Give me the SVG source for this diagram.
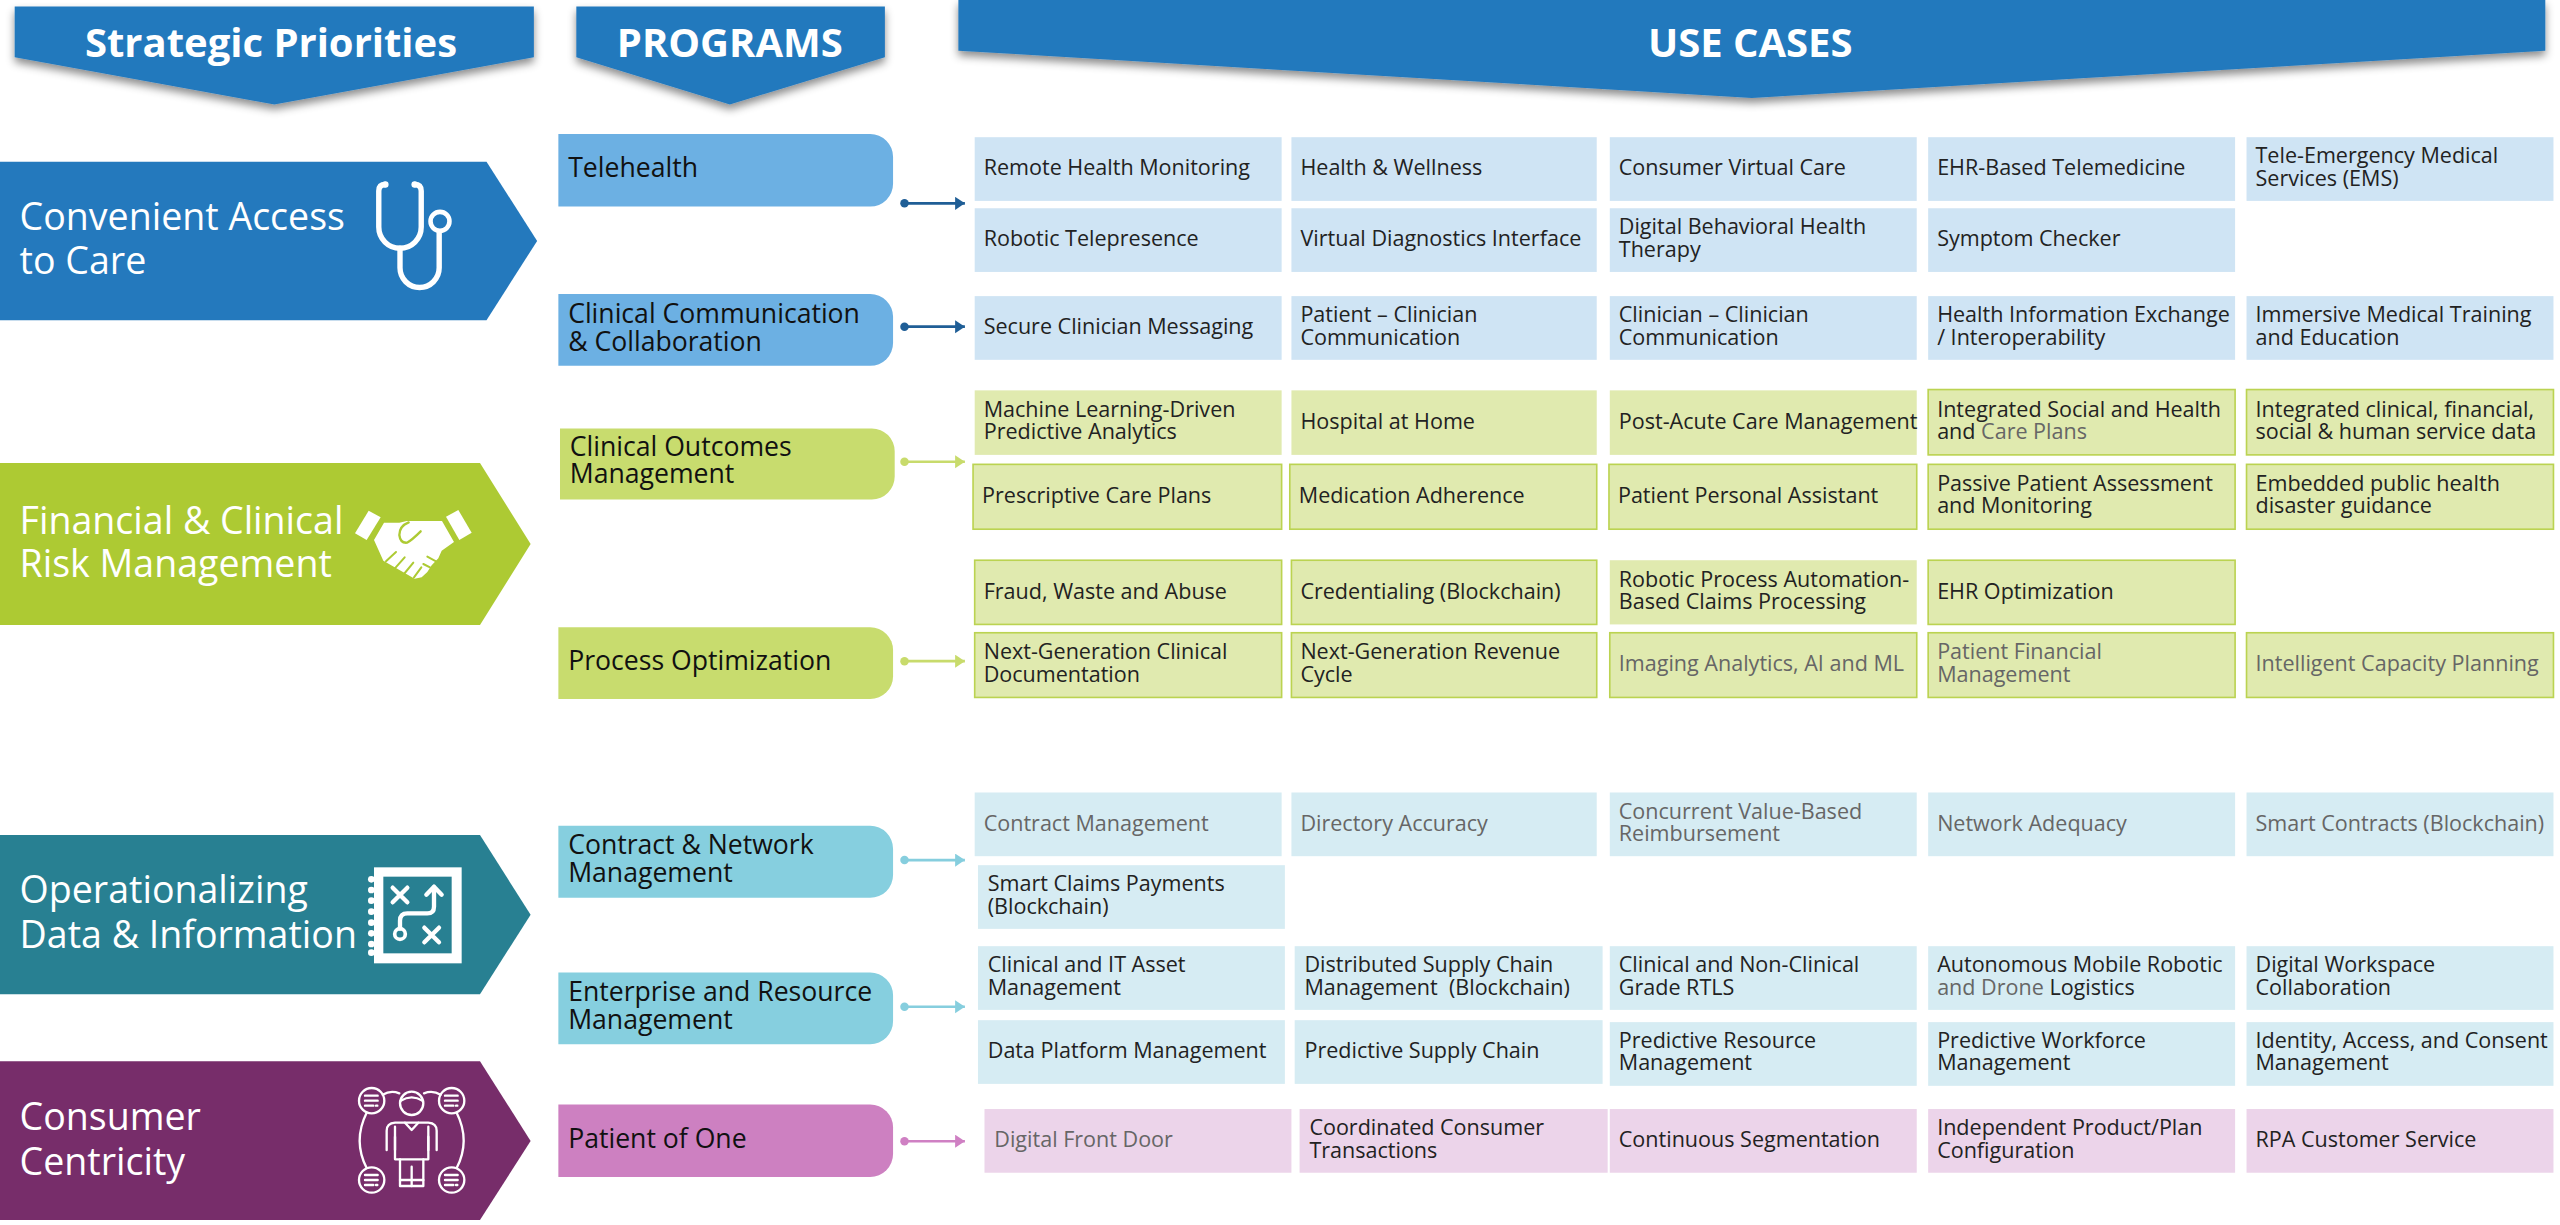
<svg xmlns="http://www.w3.org/2000/svg" width="2560" height="1225" viewBox="0 0 2560 1225">
<defs>
<style>
text{font-family:"Open Sans","Liberation Sans",sans-serif}
.ub{fill:#CFE4F4}.ug{fill:#E0EAAF}.ugb{fill:#E0EAAF;stroke:#BBD351;stroke-width:1}.ut{fill:#D6ECF3}.up{fill:#ECD4EA}
.t{font-size:13.2px;fill:#222}.g{fill:#666}
.pt{font-size:16.3px;fill:#111}
.st{font-size:23px;fill:#fff}
.ht{font-size:24.5px;font-weight:700;fill:#fff;text-anchor:middle}
.pb{fill:#6CB0E3}.pg{fill:#C8DC6E}.ptl{fill:#86CFDF}.pp{fill:#CD80C1}
.ic{fill:none;stroke:#fff;stroke-linecap:round;stroke-linejoin:round}
</style>
<filter id="sh" x="-5%" y="-20%" width="110%" height="160%">
<feDropShadow dx="0" dy="3" stdDeviation="2.5" flood-color="#000" flood-opacity="0.45"/>
</filter>
<marker id="mb" markerUnits="userSpaceOnUse" markerWidth="7" markerHeight="9" refX="6" refY="4" orient="auto"><path d="M0,0L6,4L0,8Z" fill="#1F5E96"/></marker>
<marker id="mg" markerUnits="userSpaceOnUse" markerWidth="7" markerHeight="9" refX="6" refY="4" orient="auto"><path d="M0,0L6,4L0,8Z" fill="#C8DB6C"/></marker>
<marker id="mt" markerUnits="userSpaceOnUse" markerWidth="7" markerHeight="9" refX="6" refY="4" orient="auto"><path d="M0,0L6,4L0,8Z" fill="#86CEDE"/></marker>
<marker id="mp" markerUnits="userSpaceOnUse" markerWidth="7" markerHeight="9" refX="6" refY="4" orient="auto"><path d="M0,0L6,4L0,8Z" fill="#CF80C3"/></marker>
</defs>
<rect width="2560" height="1225" fill="#fff"/>
<g transform="scale(1.63265 1.63333)">
<!-- headers -->
<g id="hdr-strategic"><path d="M9,4H327V35L168,64L9,35Z" fill="#2479BD" filter="url(#sh)"/><text class="ht" x="166" y="35">Strategic Priorities</text></g>
<g id="hdr-programs"><path d="M353,4H542V35L447,64L353,35Z" fill="#2479BD" filter="url(#sh)"/><text class="ht" x="447" y="35">PROGRAMS</text></g>
<g id="hdr-usecases"><path d="M587,0H1559V31L1073,60L587,31Z" fill="#2479BD" filter="url(#sh)"/><text class="ht" x="1072" y="35">USE CASES</text></g>

<!-- priorities -->
<g id="pri-access"><path d="M0,99H298L329,147.5L298,196H0Z" fill="#2479BD"/><text class="st"><tspan x="12" y="141">Convenient Access</tspan><tspan x="12" y="167.5">to Care</tspan></text>
<g class="ic" stroke-width="3.3"><path d="M236,113Q232,113 232,117V139A13,13 0 0 0 258,139V117Q258,113 254,113"/><path d="M245,152V164A12,12 0 0 0 269,164V142"/><circle cx="269.5" cy="135.5" r="5.8" stroke-width="2.8"/></g>
<circle cx="236" cy="113" r="2" fill="#fff"/><circle cx="254" cy="113" r="2" fill="#fff"/></g>
<g id="pri-risk"><path d="M0,283.5H294L325,333L294,382.7H0Z" fill="#ADCA33"/><text class="st"><tspan x="12" y="327">Financial &amp; Clinical</tspan><tspan x="12" y="353">Risk Management</tspan></text></g>
<g id="pri-data"><path d="M0,511.3H294L325,560L294,608.7H0Z" fill="#288092"/><text class="st"><tspan x="12" y="553">Operationalizing</tspan><tspan x="12" y="580.6">Data &amp; Information</tspan></text></g>
<g id="pri-consumer"><path d="M0,649.7H294L325,698.5L294,747H0Z" fill="#772D6A"/><text class="st"><tspan x="12" y="692">Consumer</tspan><tspan x="12" y="719.6">Centricity</tspan></text></g>

<!-- programs -->
<g id="prog-telehealth"><path d="M342,82H533A14,14 0 0 1 547,96V112.5A14,14 0 0 1 533,126.5H342Z" class="pb"/><text class="pt" x="348" y="108.5">Telehealth</text></g>
<g id="prog-ccc"><path d="M342,180H533A14,14 0 0 1 547,194V210A14,14 0 0 1 533,224H342Z" class="pb"/><text class="pt"><tspan x="348" y="198">Clinical Communication</tspan><tspan x="348" y="215">&amp; Collaboration</tspan></text></g>
<g id="prog-com"><path d="M343,262.3H534A14,14 0 0 1 548,276.3V291.8A14,14 0 0 1 534,305.8H343Z" class="pg"/><text class="pt"><tspan x="349" y="279">Clinical Outcomes</tspan><tspan x="349" y="296">Management</tspan></text></g>
<g id="prog-po"><path d="M342,384H533A14,14 0 0 1 547,398V414A14,14 0 0 1 533,428H342Z" class="pg"/><text class="pt" x="348" y="410.5">Process Optimization</text></g>
<g id="prog-cnm"><path d="M342,505.6H533A14,14 0 0 1 547,519.6V535.7A14,14 0 0 1 533,549.7H342Z" class="ptl"/><text class="pt"><tspan x="348" y="523">Contract &amp; Network</tspan><tspan x="348" y="540">Management</tspan></text></g>
<g id="prog-erm"><path d="M342,595.4H533A14,14 0 0 1 547,609.4V625.3A14,14 0 0 1 533,639.3H342Z" class="ptl"/><text class="pt"><tspan x="348" y="612.7">Enterprise and Resource</tspan><tspan x="348" y="630">Management</tspan></text></g>
<g id="prog-poo"><path d="M342,676.2H533A14,14 0 0 1 547,690.2V706.6A14,14 0 0 1 533,720.6H342Z" class="pp"/><text class="pt" x="348" y="703">Patient of One</text></g>

<!-- connectors -->
<g id="connectors" stroke-width="1.6">
<line x1="554" y1="124.5" x2="591" y2="124.5" stroke="#1F5E96" marker-end="url(#mb)"/><circle cx="554" cy="124.5" r="2.6" fill="#1F5E96"/>
<line x1="554" y1="200" x2="591" y2="200" stroke="#1F5E96" marker-end="url(#mb)"/><circle cx="554" cy="200" r="2.6" fill="#1F5E96"/>
<line x1="554" y1="282.7" x2="591" y2="282.7" stroke="#C8DB6C" marker-end="url(#mg)"/><circle cx="554" cy="282.7" r="2.6" fill="#C8DB6C"/>
<line x1="554" y1="404.8" x2="591" y2="404.8" stroke="#C8DB6C" marker-end="url(#mg)"/><circle cx="554" cy="404.8" r="2.6" fill="#C8DB6C"/>
<line x1="554" y1="526.6" x2="591" y2="526.6" stroke="#86CEDE" marker-end="url(#mt)"/><circle cx="554" cy="526.6" r="2.6" fill="#86CEDE"/>
<line x1="554" y1="616.4" x2="591" y2="616.4" stroke="#86CEDE" marker-end="url(#mt)"/><circle cx="554" cy="616.4" r="2.6" fill="#86CEDE"/>
<line x1="554" y1="698.7" x2="591" y2="698.7" stroke="#CF80C3" marker-end="url(#mp)"/><circle cx="554" cy="698.7" r="2.6" fill="#CF80C3"/>
</g>

<!-- blue use cases -->
<g id="uc-b11"><rect class="ub" x="597" y="84" width="188" height="39"/><text class="t" x="602.5" y="107.3">Remote Health Monitoring</text></g>
<g id="uc-b12"><rect class="ub" x="791" y="84" width="187" height="39"/><text class="t" x="796.5" y="107.3">Health &amp; Wellness</text></g>
<g id="uc-b13"><rect class="ub" x="986" y="84" width="188" height="39"/><text class="t" x="991.5" y="107.3">Consumer Virtual Care</text></g>
<g id="uc-b14"><rect class="ub" x="1181" y="84" width="188" height="39"/><text class="t" x="1186.5" y="107.3">EHR-Based Telemedicine</text></g>
<g id="uc-b15"><rect class="ub" x="1376" y="84" width="188" height="39"/><text class="t"><tspan x="1381.5" y="100">Tele-Emergency Medical</tspan><tspan x="1381.5" y="113.7">Services (EMS)</tspan></text></g>
<g id="uc-b21"><rect class="ub" x="597" y="127.5" width="188" height="39"/><text class="t" x="602.5" y="150.8">Robotic Telepresence</text></g>
<g id="uc-b22"><rect class="ub" x="791" y="127.5" width="187" height="39"/><text class="t" x="796.5" y="150.8">Virtual Diagnostics Interface</text></g>
<g id="uc-b23"><rect class="ub" x="986" y="127.5" width="188" height="39"/><text class="t"><tspan x="991.5" y="143.5">Digital Behavioral Health</tspan><tspan x="991.5" y="157.2">Therapy</tspan></text></g>
<g id="uc-b24"><rect class="ub" x="1181" y="127.5" width="188" height="39"/><text class="t" x="1186.5" y="150.8">Symptom Checker</text></g>
<g id="uc-b31"><rect class="ub" x="597" y="181.3" width="188" height="39"/><text class="t" x="602.5" y="204.6">Secure Clinician Messaging</text></g>
<g id="uc-b32"><rect class="ub" x="791" y="181.3" width="187" height="39"/><text class="t"><tspan x="796.5" y="197.3">Patient – Clinician</tspan><tspan x="796.5" y="211">Communication</tspan></text></g>
<g id="uc-b33"><rect class="ub" x="986" y="181.3" width="188" height="39"/><text class="t"><tspan x="991.5" y="197.3">Clinician – Clinician</tspan><tspan x="991.5" y="211">Communication</tspan></text></g>
<g id="uc-b34"><rect class="ub" x="1181" y="181.3" width="188" height="39"/><text class="t"><tspan x="1186.5" y="197.3">Health Information Exchange</tspan><tspan x="1186.5" y="211">/ Interoperability</tspan></text></g>
<g id="uc-b35"><rect class="ub" x="1376" y="181.3" width="188" height="39"/><text class="t"><tspan x="1381.5" y="197.3">Immersive Medical Training</tspan><tspan x="1381.5" y="211">and Education</tspan></text></g>

<!-- green use cases -->
<g id="uc-g11"><rect class="ug" x="597" y="239" width="188" height="39.5"/><text class="t"><tspan x="602.5" y="255.2">Machine Learning-Driven</tspan><tspan x="602.5" y="269">Predictive Analytics</tspan></text></g>
<g id="uc-g12"><rect class="ug" x="791" y="239" width="187" height="39.5"/><text class="t" x="796.5" y="262.5">Hospital at Home</text></g>
<g id="uc-g13"><rect class="ug" x="986" y="239" width="188" height="39.5"/><text class="t" x="991.5" y="262.5">Post-Acute Care Management</text></g>
<g id="uc-g14"><rect class="ugb" x="1181" y="238.5" width="188" height="40"/><text class="t"><tspan x="1186.5" y="255.2">Integrated Social and Health</tspan><tspan x="1186.5" y="269">and </tspan><tspan class="g">Care Plans</tspan></text></g>
<g id="uc-g15"><rect class="ugb" x="1376" y="238.5" width="188" height="40"/><text class="t"><tspan x="1381.5" y="255.2">Integrated clinical, financial,</tspan><tspan x="1381.5" y="269">social &amp; human service data</tspan></text></g>
<g id="uc-g21"><rect class="ugb" x="596" y="284.3" width="189" height="39.7"/><text class="t" x="601.5" y="307.8">Prescriptive Care Plans</text></g>
<g id="uc-g22"><rect class="ugb" x="790" y="284.3" width="188" height="39.7"/><text class="t" x="795.5" y="307.8">Medication Adherence</text></g>
<g id="uc-g23"><rect class="ugb" x="985.5" y="284.3" width="188.5" height="39.7"/><text class="t" x="991" y="307.8">Patient Personal Assistant</text></g>
<g id="uc-g24"><rect class="ugb" x="1181" y="284.3" width="188" height="39.7"/><text class="t"><tspan x="1186.5" y="300.5">Passive Patient Assessment</tspan><tspan x="1186.5" y="314.2">and Monitoring</tspan></text></g>
<g id="uc-g25"><rect class="ugb" x="1376" y="284.3" width="188" height="39.7"/><text class="t"><tspan x="1381.5" y="300.5">Embedded public health</tspan><tspan x="1381.5" y="314.2">disaster guidance</tspan></text></g>
<g id="uc-g31"><rect class="ugb" x="597" y="343" width="188" height="39.3"/><text class="t" x="602.5" y="366.5">Fraud, Waste and Abuse</text></g>
<g id="uc-g32"><rect class="ugb" x="791" y="343" width="187" height="39.3"/><text class="t" x="796.5" y="366.5">Credentialing (Blockchain)</text></g>
<g id="uc-g33"><rect class="ug" x="986" y="343" width="188" height="39.3"/><text class="t"><tspan x="991.5" y="359.2">Robotic Process Automation-</tspan><tspan x="991.5" y="373">Based Claims Processing</tspan></text></g>
<g id="uc-g34"><rect class="ugb" x="1181" y="343" width="188" height="39.3"/><text class="t" x="1186.5" y="366.5">EHR Optimization</text></g>
<g id="uc-g41"><rect class="ugb" x="597" y="387.4" width="188" height="39.6"/><text class="t"><tspan x="602.5" y="403.7">Next-Generation Clinical</tspan><tspan x="602.5" y="417.4">Documentation</tspan></text></g>
<g id="uc-g42"><rect class="ugb" x="791" y="387.4" width="187" height="39.6"/><text class="t"><tspan x="796.5" y="403.7">Next-Generation Revenue</tspan><tspan x="796.5" y="417.4">Cycle</tspan></text></g>
<g id="uc-g43"><rect class="ugb" x="986" y="387.4" width="188" height="39.6"/><text class="t g" x="991.5" y="411">Imaging Analytics, AI and ML</text></g>
<g id="uc-g44"><rect class="ugb" x="1181" y="387.4" width="188" height="39.6"/><text class="t g"><tspan x="1186.5" y="403.7">Patient Financial</tspan><tspan x="1186.5" y="417.4">Management</tspan></text></g>
<g id="uc-g45"><rect class="ugb" x="1376" y="387.4" width="188" height="39.6"/><text class="t g" x="1381.5" y="411">Intelligent Capacity Planning</text></g>

<!-- teal use cases -->
<g id="uc-t11"><rect class="ut" x="597" y="485.2" width="188" height="39"/><text class="t g" x="602.5" y="508.5">Contract Management</text></g>
<g id="uc-t12"><rect class="ut" x="791" y="485.2" width="187" height="39"/><text class="t g" x="796.5" y="508.5">Directory Accuracy</text></g>
<g id="uc-t13"><rect class="ut" x="986" y="485.2" width="188" height="39"/><text class="t g"><tspan x="991.5" y="501.2">Concurrent Value-Based</tspan><tspan x="991.5" y="514.9">Reimbursement</tspan></text></g>
<g id="uc-t14"><rect class="ut" x="1181" y="485.2" width="188" height="39"/><text class="t g" x="1186.5" y="508.5">Network Adequacy</text></g>
<g id="uc-t15"><rect class="ut" x="1376" y="485.2" width="188" height="39"/><text class="t g" x="1381.5" y="508.5">Smart Contracts (Blockchain)</text></g>
<g id="uc-t21"><rect class="ut" x="599" y="529.7" width="188" height="39"/><text class="t"><tspan x="605" y="545.7">Smart Claims Payments</tspan><tspan x="605" y="559.4">(Blockchain)</tspan></text></g>
<g id="uc-t31"><rect class="ut" x="599" y="579.3" width="188" height="39"/><text class="t"><tspan x="605" y="595.3">Clinical and IT Asset</tspan><tspan x="605" y="609">Management</tspan></text></g>
<g id="uc-t32"><rect class="ut" x="793" y="579.3" width="188.6" height="39"/><text class="t"><tspan x="799" y="595.3">Distributed Supply Chain</tspan><tspan x="799" y="609">Management&#160; (Blockchain)</tspan></text></g>
<g id="uc-t33"><rect class="ut" x="986" y="579.3" width="188" height="39"/><text class="t"><tspan x="991.5" y="595.3">Clinical and Non-Clinical</tspan><tspan x="991.5" y="609">Grade RTLS</tspan></text></g>
<g id="uc-t34"><rect class="ut" x="1181" y="579.3" width="188" height="39"/><text class="t"><tspan x="1186.5" y="595.3">Autonomous Mobile Robotic</tspan><tspan x="1186.5" y="609" class="g">and Drone</tspan><tspan> Logistics</tspan></text></g>
<g id="uc-t35"><rect class="ut" x="1376" y="579.3" width="188" height="39"/><text class="t"><tspan x="1381.5" y="595.3">Digital Workspace</tspan><tspan x="1381.5" y="609">Collaboration</tspan></text></g>
<g id="uc-t41"><rect class="ut" x="599" y="624.6" width="188" height="39"/><text class="t" x="605" y="648">Data Platform Management</text></g>
<g id="uc-t42"><rect class="ut" x="793" y="624.6" width="188.6" height="39"/><text class="t" x="799" y="648">Predictive Supply Chain</text></g>
<g id="uc-t43"><rect class="ut" x="986" y="625.8" width="188" height="39"/><text class="t"><tspan x="991.5" y="641.5">Predictive Resource</tspan><tspan x="991.5" y="655.2">Management</tspan></text></g>
<g id="uc-t44"><rect class="ut" x="1181" y="625.8" width="188" height="39"/><text class="t"><tspan x="1186.5" y="641.5">Predictive Workforce</tspan><tspan x="1186.5" y="655.2">Management</tspan></text></g>
<g id="uc-t45"><rect class="ut" x="1376" y="625.8" width="188" height="39"/><text class="t"><tspan x="1381.5" y="641.5">Identity, Access, and Consent</tspan><tspan x="1381.5" y="655.2">Management</tspan></text></g>

<!-- pink use cases -->
<g id="uc-p11"><rect class="up" x="603" y="679" width="188" height="39"/><text class="t g" x="609" y="702.3">Digital Front Door</text></g>
<g id="uc-p12"><rect class="up" x="796" y="679" width="188.7" height="39"/><text class="t"><tspan x="802" y="695">Coordinated Consumer</tspan><tspan x="802" y="708.7">Transactions</tspan></text></g>
<g id="uc-p13"><rect class="up" x="986" y="679" width="188" height="39"/><text class="t" x="991.5" y="702.3">Continuous Segmentation</text></g>
<g id="uc-p14"><rect class="up" x="1181" y="679" width="188" height="39"/><text class="t"><tspan x="1186.5" y="695">Independent Product/Plan</tspan><tspan x="1186.5" y="708.7">Configuration</tspan></text></g>
<g id="uc-p15"><rect class="up" x="1376" y="679" width="188" height="39"/><text class="t" x="1381.5" y="702.3">RPA Customer Service</text></g>
</g>

<!-- icons in real pixel coordinates -->
<g id="icon-handshake" transform="translate(340 490) scale(0.33333)">
<polygon points="45,130 86,62 122,82 80,150" fill="#fff"/>
<polygon points="318,80 355,60 395,128 358,150" fill="#fff"/>
<polygon points="132,98 178,98 200,93 306,93 342,156 305,182 295,205 275,226 262,246 245,262 224,266 130,212 102,150" fill="#fff"/>
<path d="M206,97Q178,108 178,135Q181,160 201,158Q216,150 242,124" fill="none" stroke="#ADCA33" stroke-width="7" stroke-linecap="round"/>
<path d="M168,186L138,214M194,202L164,236M220,218L192,252M244,232L222,262M262,200L288,214M250,222L270,232" fill="none" stroke="#ADCA33" stroke-width="6" stroke-linecap="round"/>
</g>
<g id="icon-notebook" transform="translate(350 850) scale(0.33333)">
<rect x="72" y="52" width="263" height="288" fill="#fff"/>
<rect x="100" y="80" width="205" height="230" fill="#288092"/>
<g fill="#fff"><circle cx="64" cy="88" r="10"/><circle cx="64" cy="120" r="10"/><circle cx="64" cy="152" r="10"/><circle cx="64" cy="185" r="10"/><circle cx="64" cy="218" r="10"/><circle cx="64" cy="250" r="10"/><circle cx="64" cy="282" r="10"/><circle cx="64" cy="308" r="10"/></g>
<g class="ic" stroke-width="13"><path d="M128,113L172,157M172,113L128,157"/><path d="M223,233L267,277M267,233L223,277"/><circle cx="150" cy="252" r="16" stroke-width="11"/><path d="M150,236V212Q150,190 172,190H232Q252,190 252,170V112"/><path d="M229,134L252,110L275,134"/></g>
</g>
<g id="icon-people" transform="translate(340 1070) scale(0.33333)">
<g class="ic" stroke-width="7">
<circle cx="95" cy="92" r="38"/><circle cx="335" cy="92" r="38"/><circle cx="95" cy="330" r="38"/><circle cx="335" cy="330" r="38"/>
<path d="M75,77H113M75,92H113M75,107H100M108,107H112"/><path d="M315,77H353M315,92H353M315,107H340M348,107H352"/>
<path d="M75,315H113M75,330H113M75,345H100M108,345H112"/><path d="M315,315H353M315,330H353M315,345H340M348,345H352"/>
<path d="M80,128Q38,212 80,294"/><path d="M350,128Q392,212 350,294"/>
<path d="M128,74Q152,60 178,70"/><path d="M252,70Q278,60 302,74"/>
<circle cx="215" cy="100" r="35"/><path d="M182,92Q215,72 248,92"/>
<path d="M140,240V182Q140,160 165,158H265Q290,160 290,182V240"/><path d="M165,240V200M265,240V200"/>
<path d="M165,170V268H265V170"/><path d="M195,158L215,180L235,158"/>
<path d="M180,268V348H250V268"/><path d="M215,290V348M180,330H250"/>
</g></g>
</svg>
